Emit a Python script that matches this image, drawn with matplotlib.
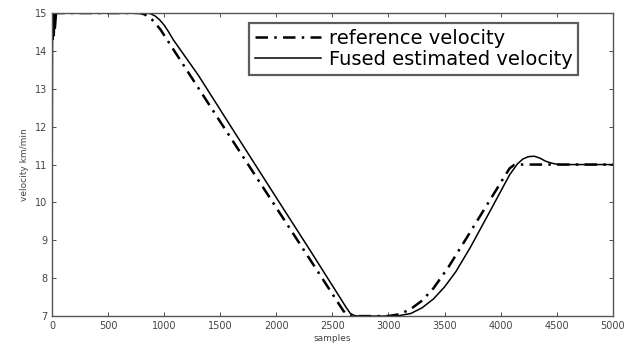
import matplotlib
matplotlib.use("Agg")
import matplotlib.pyplot as plt

# --- reference velocity (dash-dot) ---
ref_s = [0, 780, 820, 870, 920, 970, 1200, 1500, 2000, 2400, 2560, 2600, 2640, 2680,
         2996, 3100, 3200, 3300, 3400, 3536, 3700, 3900, 4050, 4080, 4120, 4160, 5000]
ref_v = [15, 15, 14.97, 14.89, 14.74, 14.55, 13.50, 12.13, 9.86, 8.04, 7.31, 7.13, 7.03, 7.0,
         7.0, 7.05, 7.19, 7.41, 7.73, 8.30, 9.08, 10.04, 10.76, 10.90, 10.99, 11.0, 11.0]

# --- fused estimated velocity (solid) ---
fus_s = [0, 5, 10, 15, 20, 25, 30, 40, 840, 880, 920, 960, 1000, 1040, 1080, 1304, 1600,
         1958, 2300, 2580, 2620, 2660, 2700, 2740, 3071, 3200, 3300, 3400, 3500, 3600,
         3731, 3900, 4000, 4080, 4150, 4200, 4250, 4300, 4350, 4400, 4450, 4500, 4550, 5000]
fus_v = [8.6, 15, 14.3, 15, 14.4, 15, 14.6, 15, 15, 14.98, 14.92, 14.82, 14.68, 14.50, 14.30,
         13.36, 11.98, 10.32, 8.74, 7.43, 7.24, 7.07, 7.01, 7.0, 7.0, 7.07, 7.22, 7.45,
         7.77, 8.17, 8.82, 9.74, 10.29, 10.73, 11.02, 11.15, 11.21, 11.22, 11.17, 11.09,
         11.04, 11.01, 11.0, 11.0]

x_ticks = list(range(0, 5001, 500))
y_ticks = list(range(7, 16))

plt.rcParams['font.family'] = ['DejaVu Sans']

fig = plt.figure(figsize=(6.39, 3.52), dpi=100)
ax = fig.add_axes([0.0814, 0.102, 0.8776, 0.861])

ax.plot(ref_s, ref_v, color='black', lw=1.8, linestyle=(0, (5, 2.5, 1, 2.5)),
        label='reference velocity')
ax.plot(fus_s, fus_v, color='black', lw=1.1, label='Fused estimated velocity')

ax.set_xlim(0, 5000)
ax.set_ylim(7, 15)
ax.set_xticks(x_ticks)
ax.set_yticks(y_ticks)
ax.tick_params(direction='in', top=True, right=True, labelsize=7, length=3,
               width=0.6, colors='#333333', labelcolor='#444444')
for sp in ax.spines.values():
    sp.set_color('#555555')
    sp.set_linewidth(1.0)

ax.set_xlabel('samples', fontsize=6.5, color='#444444', labelpad=2)
ax.set_ylabel('velocity km/min', fontsize=6.5, color='#444444', labelpad=4)

leg = ax.legend(loc='upper left', bbox_to_anchor=(0.351, 0.967), fontsize=14,
                handlelength=3.4, frameon=True, fancybox=False, borderpad=0.3,
                labelspacing=0.1, handletextpad=0.4, borderaxespad=0)
leg.get_frame().set_edgecolor('#333333')
leg.get_frame().set_linewidth(1.6)

fig.savefig('out.png', dpi=100)
